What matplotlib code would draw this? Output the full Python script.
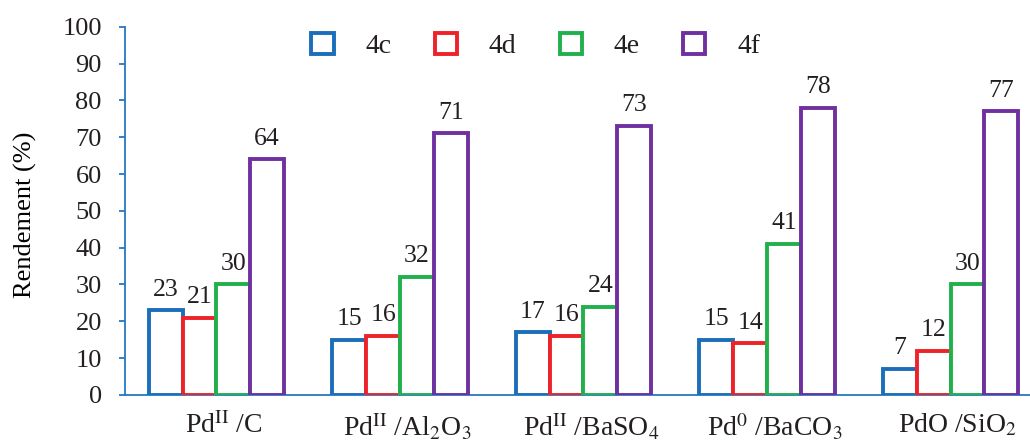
import numpy as np
import matplotlib
matplotlib.use("Agg")
import matplotlib.pyplot as plt
from matplotlib.patches import Patch

plt.rcParams["font.family"] = ["Liberation Serif", "DejaVu Serif"]
plt.rcParams["mathtext.fontset"] = "stix"
plt.rcParams["text.color"] = "#231f20"
plt.rcParams["ytick.labelcolor"] = "#231f20"
plt.rcParams["xtick.labelcolor"] = "#231f20"

# catalyseurs et rendements (%)
catalyseurs = [
    r"Pd$^{\mathrm{II}}$ /C",
    r"Pd$^{\mathrm{II}}$ /Al$_2$O$_3$",
    r"Pd$^{\mathrm{II}}$ /BaSO$_4$",
    r"Pd$^{0}$ /BaCO$_3$",
    r"PdO /SiO$_2$",
]
produits = ["4c", "4d", "4e", "4f"]
r_4c = [23, 15, 17, 15, 7]
r_4d = [21, 16, 16, 14, 12]
r_4e = [30, 32, 24, 41, 30]
r_4f = [64, 71, 73, 78, 77]
couleurs = ["#1b6fba", "#ee2228", "#21b14c", "#7030a0"]
bleu_axe = "#2378c3"

fig = plt.figure(figsize=(10.30, 4.44), dpi=100)
ax = fig.add_axes([0.1211, 0.1104, 0.8908, 0.8295])

x = np.arange(len(catalyseurs))
largeur = 0.184
series = [r_4c, r_4d, r_4e, r_4f]

for i, (vals, col) in enumerate(zip(series, couleurs)):
    pos = x + (i - 1.5) * largeur
    ax.bar(pos, vals, width=largeur, facecolor="white", edgecolor=col,
           linewidth=2.8, zorder=3)
    for px, v in zip(pos, vals):
        ax.annotate(str(v), (px, v), xytext=(0, 7), textcoords="offset points",
                    ha="center", va="bottom", fontsize=18.5)

ax.set_xlim(-0.5, 4.5)
ax.set_ylim(0, 100)
ax.set_yticks(range(0, 101, 10))
ax.set_xticks(x + 0.04)
ax.set_xticklabels(catalyseurs, fontsize=20)
ax.tick_params(axis="x", length=0, pad=12)
ax.tick_params(axis="y", direction="out", length=4.5, width=1.3,
               color=bleu_axe, labelsize=19, pad=12)
ax.set_ylabel("Rendement (%)", fontsize=19)
ax.yaxis.set_label_coords(-0.096, 0.49)

for s in ["top", "right"]:
    ax.spines[s].set_visible(False)
for s in ["left", "bottom"]:
    ax.spines[s].set_color(bleu_axe)
    ax.spines[s].set_linewidth(1.3)

handles = [Patch(facecolor="white", edgecolor=c, linewidth=2.8) for c in couleurs]
ax.legend(handles, produits, loc="center", bbox_to_anchor=(0.448, 0.948),
          ncol=4, frameon=False, fontsize=20, handlelength=0.8,
          handleheight=0.8, handletextpad=1.15, columnspacing=1.55)

fig.savefig("out.png", dpi=100)
